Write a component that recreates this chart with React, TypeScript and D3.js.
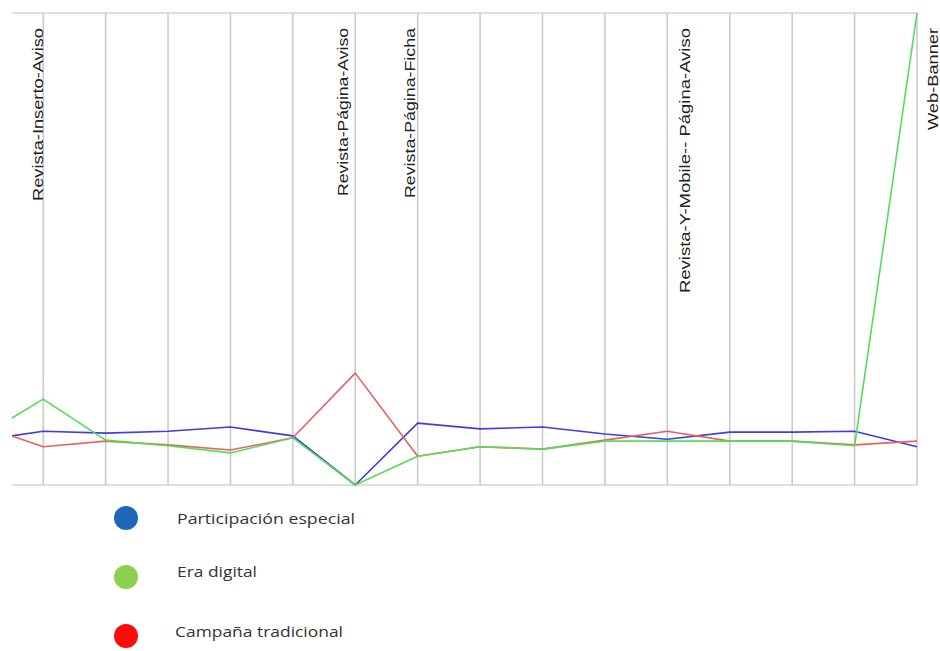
import React from "react";
import * as d3 from "d3";

// x positions (category slots; the first point sits half a slot before the first gridline)
const positions = [-0.5, 0, 1, 2, 3, 4, 5, 6, 7, 8, 9, 10, 11, 12, 13, 14];
const gridSlots = [0, 1, 2, 3, 4, 5, 6, 7, 8, 9, 10, 11, 12, 13, 14];

const participacion = [10.4, 11.4, 11.0, 11.4, 12.3, 10.4, 0, 13.1, 11.9, 12.3, 10.8, 9.7, 11.2, 11.2, 11.4, 8.1];
const eraDigital = [14.2, 18.2, 9.5, 8.3, 6.8, 10.0, 0, 6.1, 8.1, 7.6, 9.3, 9.3, 9.3, 9.3, 8.3, 100];
const campana = [10.4, 8.1, 9.3, 8.5, 7.4, 10.0, 23.7, 6.1, 8.1, 7.6, 9.5, 11.4, 9.3, 9.3, 8.5, 9.3];

const labelTexts = ["Revista-Inserto-Aviso", "Revista-Página-Aviso", "Revista-Página-Ficha", "Revista-Y-Mobile--  Página-Aviso", "Web-Banner"];
const labelSlots = [0, 5, 6, 10, 14];
const labelDx = [0, -7, -3, 23, 21];
const labelLengths = [173, 168, 170, 265, 102];

const legendNames = ["Participación especial", "Era digital", "Campaña tradicional"];
const legendColors = ["#1f68b8", "#8cd050", "#ff0a0a"];
const legendTextLengths = [178, 80, 168];

const seriesList = [
  { values: participacion, color: "#3d3de0" },
  { values: campana, color: "#e86060" },
  { values: eraDigital, color: "#55dd55" },
];

export default function App() {
  const W = 940, H = 651;
  const x = d3.scaleLinear().domain([-0.5, 14]).range([12, 917]);
  const y = d3.scaleLinear().domain([0, 100]).range([485, 13]);
  const line = d3
    .line<number>()
    .x((_, i) => x(positions[i]))
    .y((d) => y(d));

  return (
    <div style={{ position: "absolute", left: 0, top: 0 }}>
      <svg width={W} height={H} style={{ display: "block", background: "#fff" }}>
        {/* frame */}
        <line x1={x(-0.5)} x2={x(14)} y1={y(100)} y2={y(100)} stroke="#d4d4d4" strokeWidth={1.5} />
        <line x1={x(-0.5)} x2={x(14)} y1={y(0)} y2={y(0)} stroke="#d4d4d4" strokeWidth={1.5} />
        {gridSlots.map((s) => (
          <line key={s} x1={x(s)} x2={x(s)} y1={y(100)} y2={y(0)} stroke="#c8c8c8" strokeWidth={1.5} />
        ))}
        {/* category labels */}
        {labelTexts.map((t, i) => {
          const bx = x(labelSlots[i]) + labelDx[i];
          return (
            <text
              key={t}
              transform={`translate(${bx},28) rotate(-90)`}
              textAnchor="end"
              fontFamily="Liberation Sans, Arial, sans-serif"
              fontSize={14}
              fill="#222"
              textLength={labelLengths[i]}
              lengthAdjust="spacingAndGlyphs"
            >
              {t}
            </text>
          );
        })}
        {/* series */}
        {seriesList.map((s, i) => (
          <path key={i} d={line(s.values) || ""} fill="none" stroke={s.color} strokeWidth={1.6} strokeLinejoin="round" />
        ))}
        {/* legend */}
        {legendNames.map((n, i) => {
          const cy = [518, 577, 636][i];
          return (
            <g key={n}>
              <circle cx={126} cy={cy} r={12} fill={legendColors[i]} />
              <text
                x={[177, 177, 175][i]}
                y={[524, 577, 637][i]}
                fontFamily="Open Sans, sans-serif"
                fontSize={15}
                fill="#333"
                textLength={legendTextLengths[i]}
                lengthAdjust="spacingAndGlyphs"
              >
                {n}
              </text>
            </g>
          );
        })}
      </svg>
    </div>
  );
}
